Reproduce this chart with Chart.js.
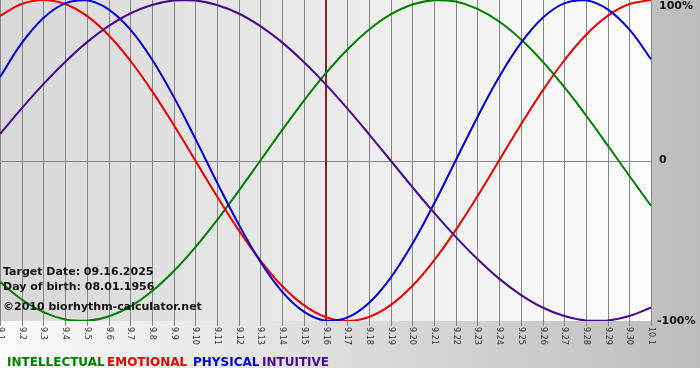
<!DOCTYPE html>
<html>
<head>
<meta charset="utf-8">
<script src="https://cdn.jsdelivr.net/npm/chart.js@4/dist/chart.umd.min.js"></script>
<style>
html,body{margin:0;padding:0;background:#fff;}
#wrap{width:700px;height:380px;position:relative;}
</style>
</head>
<body>
<div id="wrap"><canvas id="c" width="700" height="380"></canvas></div>
<script>
const days = ['9.1','9.2','9.3','9.4','9.5','9.6','9.7','9.8','9.9','9.10','9.11','9.12','9.13','9.14','9.15','9.16','9.17','9.18','9.19','9.20','9.21','9.22','9.23','9.24','9.25','9.26','9.27','9.28','9.29','9.30','10.1'];
const intellectual = [-75.6,-86.6,-94.5,-99.0,-99.9,-97.2,-91.0,-81.5,-69.0,-54.1,-37.2,-18.9,0,18.9,37.2,54.1,69.0,81.5,91.0,97.2,99.9,99.0,94.5,86.6,75.6,61.8,45.8,28.2,9.5,-9.5,-28.2];
const emotional = [90.1,97.5,100,97.5,90.1,78.2,62.3,43.4,22.3,0,-22.3,-43.4,-62.3,-78.2,-90.1,-97.5,-100,-97.5,-90.1,-78.2,-62.3,-43.4,-22.3,0,22.3,43.4,62.3,78.2,90.1,97.5,100];
const physical = [52.0,73.1,88.8,97.9,99.8,94.2,81.7,63.1,39.8,13.6,-13.6,-39.8,-63.1,-81.7,-94.2,-99.8,-97.9,-88.8,-73.1,-52.0,-27.0,0,27.0,52.0,73.1,88.8,97.9,99.8,94.2,81.7,63.1];
const intuitive = [16.5,32.5,47.6,61.4,73.6,83.7,91.6,96.9,99.7,99.7,96.9,91.6,83.7,73.6,61.4,47.6,32.5,16.5,0,-16.5,-32.5,-47.6,-61.4,-73.6,-83.7,-91.6,-96.9,-99.7,-99.7,-96.9,-91.6];
const yTickLabels = [{v:100,t:'100%'},{v:0,t:'0'},{v:-100,t:'-100%'}];
const targetDay = '9.16';
const infoLines = ['Target Date: 09.16.2025','Day of birth: 08.01.1956','\u00a92010 biorhythm-calculator.net'];
const legendItems = [['INTELLECTUAL','#008000'],['EMOTIONAL','#ee0000'],['PHYSICAL','#0000dd'],['INTUITIVE','#4b0a8a']];

const decor = {
  id:'decor',
  beforeDraw(chart){
    const {ctx, chartArea:a, scales:{x,y}} = chart;
    ctx.save();
    let g = ctx.createLinearGradient(0,0,700,0);
    g.addColorStop(0,'#fbfbfb'); g.addColorStop(1,'#bdbdbd');
    ctx.fillStyle = g; ctx.fillRect(0,0,700,368);
    ctx.fillStyle = '#ffffff'; ctx.fillRect(0,368,700,12);
    let pg = ctx.createLinearGradient(a.left,0,a.right,0);
    pg.addColorStop(0,'#d8d8d8'); pg.addColorStop(1,'#fdfdfd');
    ctx.fillStyle = pg; ctx.fillRect(a.left,a.top,a.right-a.left,a.bottom-a.top);
    // grid
    ctx.strokeStyle = '#858585'; ctx.lineWidth = 1;
    days.forEach((d,i)=>{
      const px = Math.round(x.getPixelForValue(i)) + 0.5;
      ctx.beginPath(); ctx.moveTo(px,a.top); ctx.lineTo(px,a.bottom+5); ctx.stroke();
    });
    const zy = Math.round(y.getPixelForValue(0)) + 0.5;
    ctx.beginPath(); ctx.moveTo(a.left,zy); ctx.lineTo(a.right,zy); ctx.stroke();
    // target line
    const tx = Math.round(x.getPixelForValue(days.indexOf(targetDay)));
    ctx.fillStyle = '#8b2424';
    ctx.fillRect(tx-1,a.top,2,a.bottom-a.top);
    ctx.restore();
  },
  afterDraw(chart){
    const {ctx, chartArea:a, scales:{x,y}} = chart;
    ctx.save();
    // x labels rotated clockwise
    ctx.font = '8px "DejaVu Sans"';
    ctx.fillStyle = '#333';
    ctx.textAlign = 'left'; ctx.textBaseline = 'middle';
    days.forEach((d,i)=>{
      const px = Math.round(x.getPixelForValue(i)) + 0.5;
      ctx.save(); ctx.translate(px, a.bottom+6); ctx.rotate(Math.PI/2);
      ctx.fillText(d,0,0); ctx.restore();
    });
    // right labels
    ctx.font = 'bold 11px "DejaVu Sans"';
    ctx.fillStyle = '#111';
    yTickLabels.forEach(o=>{
      let py = y.getPixelForValue(o.v);
      if (o.v === 100) py += 6;
      ctx.fillText(o.t, o.v===0 ? a.right+8 : (o.v<0 ? a.right+6 : a.right+8), py);
    });
    // info text
    ctx.font = 'bold 11px "DejaVu Sans"';
    ctx.fillStyle = '#111';
    ctx.textBaseline = 'alphabetic';
    ctx.fillText(infoLines[0], 3, 275);
    ctx.fillText(infoLines[1], 3, 290);
    ctx.fillText(infoLines[2], 3, 310);
    // legend
    ctx.font = 'bold 12px "DejaVu Sans"';
    const lx = [7,107,193,262];
    legendItems.forEach((it,i)=>{
      ctx.fillStyle = it[1];
      ctx.fillText(it[0], lx[i], 366);
    });
    ctx.restore();
  }
};

const mk = (label,data,color)=>({label,data,borderColor:color,backgroundColor:color,borderWidth:2,pointRadius:0,tension:0.4,fill:false});

new Chart(document.getElementById('c'),{
  type:'line',
  data:{
    labels:days,
    datasets:[
      mk('INTUITIVE',intuitive,'#4b0a8a'),
      mk('PHYSICAL',physical,'#0000dd'),
      mk('EMOTIONAL',emotional,'#ee0000'),
      mk('INTELLECTUAL',intellectual,'#008000')
    ]
  },
  options:{
    responsive:false,
    animation:false,
    layout:{padding:{left:0,right:49,top:0,bottom:59}},
    plugins:{legend:{display:false},tooltip:{enabled:false}},
    scales:{
      x:{display:false,offset:false},
      y:{display:false,min:-100,max:100}
    }
  },
  plugins:[decor]
});
</script>
</body>
</html>
